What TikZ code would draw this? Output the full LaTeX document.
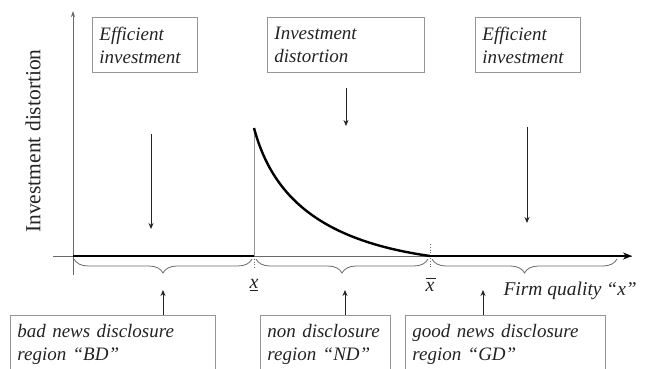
\documentclass[tikz,border=0pt]{standalone}
\usepackage{fontspec}
\setmainfont{Liberation Serif}
\usetikzlibrary{decorations.pathreplacing,arrows.meta}
\definecolor{boxgray}{RGB}{150,150,150}
\definecolor{axisgray}{RGB}{105,105,105}
\definecolor{txt}{RGB}{35,35,35}
\begin{document}
\begin{tikzpicture}[x=1pt,y=-1pt,
  lbl/.style={draw=boxgray, line width=0.9pt, anchor=north west, inner xsep=7pt, inner ysep=3pt, align=left,
    font=\fontsize{19}{23}\selectfont\itshape, text=txt},
  arr/.style={draw=txt, line width=0.8pt, -{Stealth[length=6pt,width=5pt]}},
  brc/.style={draw=axisgray, line width=0.8pt, decorate, decoration={brace,mirror,amplitude=14pt}},
  thick line/.style={line width=2.6pt, black},
  axis/.style={draw=axisgray, line width=0.9pt},
 ]
\useasboundingbox (0,0) rectangle (650,369);
% coordinates
\coordinate (o) at (73,256);
\coordinate (ytop) at (73,11);
\coordinate (ybot) at (73,275);
\coordinate (xstart) at (53,256);
\coordinate (xend) at (632,256);
\coordinate (xl) at (254,256);
\coordinate (xh) at (430,256);
\coordinate (peak) at (254,128);
% axes
\draw[axis, -{Stealth[length=6pt,width=4pt]}] (ybot) -- (ytop);
\draw[axis] (xstart) -- (xend);
% vertical guides
\draw[axisgray!70, line width=0.6pt] (peak) -- (xl);
\draw[axisgray, dotted, line width=0.8pt] (254,256) -- (254,268);
\draw[axisgray, dotted, line width=0.8pt] (430,244) -- (430,268);
% thick segments and curve
\draw[thick line] (o) -- (xl);
\draw[thick line, -{Stealth[length=9pt,width=7pt]}] (xh) -- (xend);
\draw[line width=2.4pt] (peak) .. controls (272,195) and (318,240) .. (xh);
% braces
\draw[brc] (74,259) -- (252,259);
\draw[brc] (256,259) -- (428,259);
\draw[brc] (432,259) -- (617,259);
\coordinate (tip1) at (163,290);
\coordinate (tip2) at (345,290);
\coordinate (tip3) at (483,290);
% axis labels
\node[rotate=90, font=\fontsize{21.5}{24}\selectfont, text=txt] (ylab) at (33,141) {Investment distortion};
\node[font=\fontsize{20}{24}\selectfont\itshape, text=txt] (xlo) at (254,285) {\underline{x}};
\node[font=\fontsize{20}{24}\selectfont\itshape, text=txt] (xhi) at (430,285) {\rlap{\raisebox{13pt}{\rule{10pt}{0.9pt}}}x};
\node[font=\fontsize{19.5}{24}\selectfont\itshape, text=txt, anchor=base west] (fq) at (500,295) {Firm quality “x”};
% top boxes
\node[lbl, minimum height=55pt, text width=91pt] (t1) at (92,17) {Efficient\\investment};
\node[lbl, minimum height=55pt, text width=143pt] (t2) at (267,17) {Investment\\distortion};
\node[lbl, minimum height=55pt, text width=91pt] (t3) at (475,17) {Efficient\\investment};
% bottom boxes
\node[lbl, minimum height=57pt, text width=191pt] (b1) at (10,315) {bad news disclosure\\region “BD”};
\node[lbl, minimum height=57pt, text width=116pt] (b2) at (260,315) {non disclosure\\region “ND”};
\node[lbl, minimum height=57pt, text width=186pt] (b3) at (405,315) {good news disclosure\\region “GD”};
% down arrows
\coordinate (d1s) at (151,134); \coordinate (d1e) at (151,229);
\coordinate (d2s) at (346,88);  \coordinate (d2e) at (346,126);
\coordinate (d3s) at (527,127); \coordinate (d3e) at (527,223);
\draw[arr] (d1s) -- (d1e);
\draw[arr] (d2s) -- (d2e);
\draw[arr] (d3s) -- (d3e);
% up arrows
\draw[arr] (b1.north -| tip1) -- (tip1);
\draw[arr] (b2.north -| tip2) -- (tip2);
\draw[arr] (b3.north -| tip3) -- (tip3);
\end{tikzpicture}
\end{document}
